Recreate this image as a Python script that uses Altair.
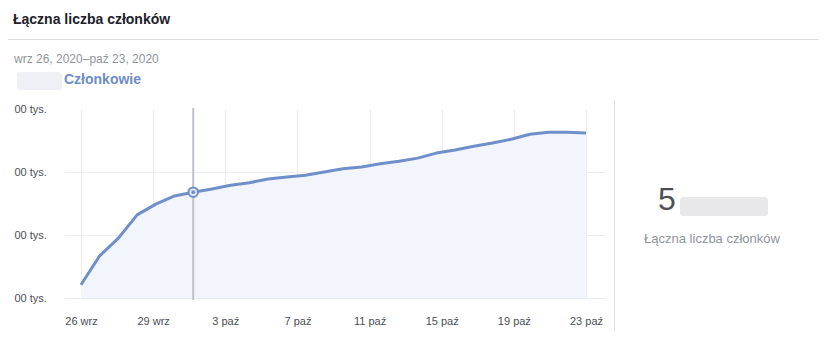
import altair as alt
import pandas as pd

# ---- data ----
days = list(range(28))  # 26 wrz .. 23 paź
members = [0.21, 0.67, 0.95, 1.32, 1.49, 1.62, 1.68, 1.73, 1.79, 1.83, 1.89, 1.92,
           1.95, 2.00, 2.05, 2.08, 2.13, 2.17, 2.22, 2.30, 2.35, 2.41, 2.46, 2.52,
           2.60, 2.63, 2.63, 2.62]
x_labels = ["26 wrz", "29 wrz", "3 paź", "7 paź", "11 paź", "15 paź", "19 paź", "23 paź"]
y_ticks = [0, 1, 2, 3]
y_label = "00 tys."
highlight_day = 6

FONT = "Liberation Sans"
LINE = "#6f8fca"
FILL = "#f2f5fb"
GRID = "#ebedf0"
DARK = "#4b4f56"
GRAY = "#90949c"

df = pd.DataFrame({"day": days, "value": members})
hl = df[df["day"] == highlight_day]

n = len(x_labels) - 1
span = days[-1] - days[0]
tick_vals = [k * span / n for k in range(n + 1)]
label_expr = "[" + ",".join("'%s'" % s for s in x_labels) + "][round(datum.value*%d/%d)]" % (n, span)

xscale = alt.Scale(domain=[-0.909, 28.016], nice=False, zero=False)
yscale = alt.Scale(domain=[0, 3], nice=False, zero=False)

xaxis = alt.Axis(values=tick_vals, labelExpr=label_expr, title=None, domain=False, ticks=False,
                 tickSize=0, labelPadding=17, labelFont=FONT, labelFontSize=11, labelColor=DARK,
                 gridColor=GRID, labelFlush=False)
yaxis = alt.Axis(values=y_ticks, labelExpr="'%s'" % y_label, title=None, domain=False, ticks=False,
                 tickSize=0, labelPadding=50, labelAlign="left", labelFont=FONT, labelFontSize=11,
                 labelColor=DARK, gridColor=GRID,
                 gridOpacity={"condition": {"test": "datum.value >= 3", "value": 0}, "value": 1})

base = alt.Chart(df)
area = base.mark_area(color=FILL).encode(
    x=alt.X("day:Q", scale=xscale, axis=xaxis),
    y=alt.Y("value:Q", scale=yscale, axis=yaxis),
)
line = base.mark_line(color=LINE, strokeWidth=3, strokeJoin="round").encode(
    x=alt.X("day:Q", scale=xscale), y=alt.Y("value:Q", scale=yscale))

cursor = alt.Chart(hl).mark_rule(color="#bec3c9", strokeWidth=2).encode(
    x=alt.X("day:Q", scale=xscale), y=alt.value(-1), y2=alt.value(191))
ring = alt.Chart(hl).mark_point(shape="circle", filled=True, fill="#dfe7f5", stroke=LINE,
                                strokeWidth=2, size=90, opacity=1).encode(
    x=alt.X("day:Q", scale=xscale), y=alt.Y("value:Q", scale=yscale))
dot = alt.Chart(hl).mark_point(shape="circle", filled=True, color=LINE, size=14, opacity=1).encode(
    x=alt.X("day:Q", scale=xscale), y=alt.Y("value:Q", scale=yscale))

def txt(s, x, y, size, color, weight="normal", align="left", baseline="middle"):
    return alt.Chart(pd.DataFrame({"t": [s]})).mark_text(
        font=FONT, fontSize=size, color=color, fontWeight=weight, align=align, baseline=baseline
    ).encode(text="t:N", x=alt.value(x), y=alt.value(y))

def rule(x, x2, y, y2):
    return alt.Chart(pd.DataFrame({"a": [0]})).mark_rule(color="#dddfe2", strokeWidth=1).encode(
        x=alt.value(x), x2=alt.value(x2), y=alt.value(y), y2=alt.value(y2))

def box(x, x2, y, y2, color):
    return alt.Chart(pd.DataFrame({"a": [0]})).mark_rect(color=color, cornerRadius=3).encode(
        x=alt.value(x), x2=alt.value(x2), y=alt.value(y), y2=alt.value(y2))

title = txt("Łączna liczba członków", -51, -89, 14, "#1d2129", weight="bold")
divider = rule(-56, 755, -69.5, -69.5)
dates = txt("wrz 26, 2020–paź 23, 2020", -50, -50, 12, GRAY)
blob1 = box(-47, -2, -37, -19, "#eef0f6")
members_lbl = txt("Członkowie", 0, -29, 14, "#6d8cc8", weight="bold")
sep = rule(550.5, 550.5, -9, 221)
big = txt("5", 594, 101, 32, DARK, baseline="alphabetic")
blob2 = box(616, 704, 88, 107, "#e8e8ea")
big_lbl = txt("Łączna liczba członków", 648, 130, 13, GRAY, align="center")

chart = alt.layer(area, line, cursor, ring, dot, title, divider, dates, blob1, members_lbl,
                  sep, big, blob2, big_lbl).properties(
    width=541, height=189,
    padding={"left": 56, "top": 101, "right": 214, "bottom": 53},
    autosize=alt.AutoSizeParams(type="none"),
).configure(background="white").configure_view(stroke="transparent", strokeWidth=0)

chart.save("out.html", embed_options={"renderer": "svg", "actions": False})
